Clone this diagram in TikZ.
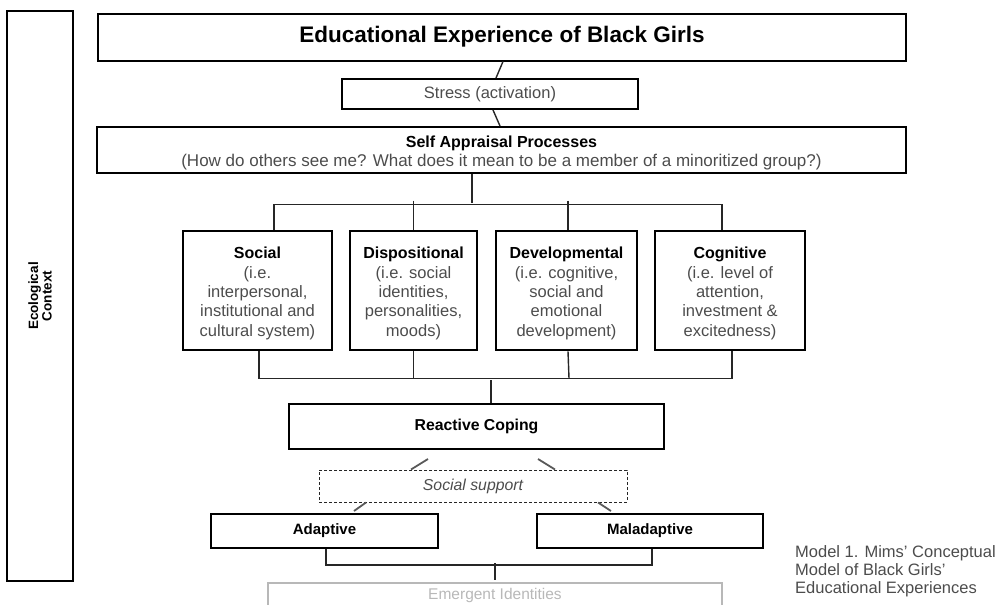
\documentclass[tikz,border=0pt]{standalone}
\usepackage{fontspec}
\setmainfont{Liberation Sans}
\usepackage{xcolor}
\usepackage{tikz}
\usetikzlibrary{calc}
\definecolor{softgray}{rgb}{0.30, 0.30, 0.30}
\definecolor{palegray}{rgb}{0.72, 0.72, 0.72}

\tikzset{
  frame/.style={draw=black, line width=2pt, rectangle, inner sep=0pt, align=center},
  dimbox/.style={frame, line width=2.6pt, minimum height=119pt, text=softgray,
    font=\fontsize{16.5}{19.3}\selectfont},
  link/.style={draw=black!85, line width=1.4pt},
  slant/.style={draw=black!65, line width=1.8pt}
}
\newcommand{\dimtitle}[1]{{\color{black}\fontsize{16}{19.3}\selectfont\bfseries\rule{0pt}{17.5pt}#1}}

\begin{document}
\begin{tikzpicture}[x=1pt, y=-1pt]
        \useasboundingbox (0,0) rectangle (1002,605);

        % Ecological context (left band)
        \node[draw=black, line width=1.3pt, rotate=90, minimum width=570pt, minimum height=66pt,
          align=center, font=\fontsize{13.5}{13.5}\selectfont\bfseries] (eco) at (40,296)
          {Ecological\\Context};

        % Top levels
        \node[frame, minimum width=808pt, minimum height=47pt,
          font=\fontsize{22.5}{26}\selectfont\bfseries] (title) at (502,37)
          {\raisebox{-1pt}{Educational Experience of Black Girls}};
        \node[frame, minimum width=296pt, minimum height=30pt, text=softgray,
          font=\fontsize{16.5}{18}\selectfont] (stress) at (490,94) {Stress (activation)};
        \node[frame, minimum width=809pt, minimum height=46pt, text=softgray,
          font=\fontsize{17}{19}\selectfont] (appraisal) at (501.5,150)
          {{\color{black}\fontsize{16}{19}\selectfont\bfseries\rule{0pt}{18.5pt}Self Appraisal Processes}\\(How do others see me? What does it mean to be a member of a minoritized group?)};

        % Four dimensions
        \node[dimbox, minimum width=149pt] (social) at (257.5,290.5)
          {\dimtitle{Social}\\(i.e.\\interpersonal,\\institutional and\\cultural system)};
        \node[dimbox, minimum width=127pt] (disp) at (413.5,290.5)
          {\dimtitle{Dispositional}\\(i.e. social\\identities,\\personalities,\\moods)};
        \node[dimbox, minimum width=141pt] (devel) at (566.5,290.5)
          {\dimtitle{Developmental}\\(i.e. cognitive,\\social and\\emotional\\development)};
        \node[dimbox, minimum width=150pt] (cognitive) at (730,290.5)
          {\dimtitle{Cognitive}\\(i.e. level of\\attention,\\investment \&\\excitedness)};

        % Coping and outcomes
        \node[frame, minimum width=375pt, minimum height=45pt,
          font=\fontsize{15.8}{18}\selectfont\bfseries] (coping) at (476.5,426.5) {Reactive Coping};
        \node[draw=black!85, line width=1pt, dash pattern=on 3pt off 2pt, minimum width=308pt,
          minimum height=32pt, inner sep=0pt, text=softgray,
          font=\fontsize{15.8}{18}\selectfont\itshape] (support) at (473,486) {Social support};
        \node[frame, minimum width=227pt, minimum height=34pt,
          font=\fontsize{15}{18}\selectfont\bfseries] (adaptive) at (324.5,531) {Adaptive};
        \node[frame, minimum width=226pt, minimum height=34pt,
          font=\fontsize{15}{18}\selectfont\bfseries] (maladaptive) at (650,531) {Maladaptive};
        \node[draw=palegray, line width=1.6pt, minimum width=454pt, minimum height=24pt,
          inner sep=0pt, text=palegray, font=\fontsize{15.5}{18}\selectfont] (emergent) at (495,595)
          {Emergent Identities};

        % Caption
        \node[anchor=west, align=left, inner sep=0pt, text=softgray,
          font=\fontsize{16.5}{18}\selectfont] (caption) at (795,571)
          {Model 1. Mims' Conceptual\\Model of Black Girls'\\Educational Experiences};

        % Connectors, top
        \draw[link] ($(title.south)+(1,0)$) -- ($(stress.north)+(6,0)$);
        \draw[link] ($(stress.south)+(3,0)$) -- ($(appraisal.north)+(-1.5,0)$);
        \draw[link] ($(appraisal.south)+(-29.5,0)$) -- ($(appraisal.south)+(-29.5,29)$);

        % Connectors, dimensions in
        \draw[link] ($(social.north)+(16.5,0)$) |- ($(cognitive.north)+(-8,-25)$) -- ($(cognitive.north)+(-8,0)$);
        \draw[link] ($(disp.north)+(0,-29)$) -- (disp.north);
        \draw[link] ($(devel.north)+(1.5,-29)$) -- ($(devel.north)+(1.5,0)$);

        % Connectors, dimensions out
        \draw[link] ($(social.south)+(1.5,0)$) |- ($(cognitive.south)+(2,27)$) -- ($(cognitive.south)+(2,0)$);
        \draw[link] (disp.south) -- ($(disp.south)+(0,27)$);
        \draw[link] ($(devel.south)+(1.5,0)$) -- ($(devel.south)+(2.5,27)$);
        \draw[link] ($(coping.north)+(14.5,-23)$) -- ($(coping.north)+(14.5,0)$);

        % Connectors, coping
        \draw[slant] ($(coping.south)+(-48.5,9)$) -- ($(support.north)+(-62,0)$);
        \draw[slant] ($(coping.south)+(61.5,9)$) -- ($(support.north)+(82,0)$);
        \draw[slant] ($(support.south)+(-107,0)$) -- ($(adaptive.north)+(29.5,-2)$);
        \draw[slant] ($(support.south)+(125,0)$) -- ($(maladaptive.north)+(-39,-2)$);

        % Connectors, outcomes
        \draw[link] ($(adaptive.south)+(1.5,0)$) |- ($(maladaptive.south)+(2,16)$) -- ($(maladaptive.south)+(2,0)$);
        \draw[link] ($(emergent.north)+(0,-19)$) -- ($(emergent.north)+(0,-2)$);
    \end{tikzpicture}
\end{document}
